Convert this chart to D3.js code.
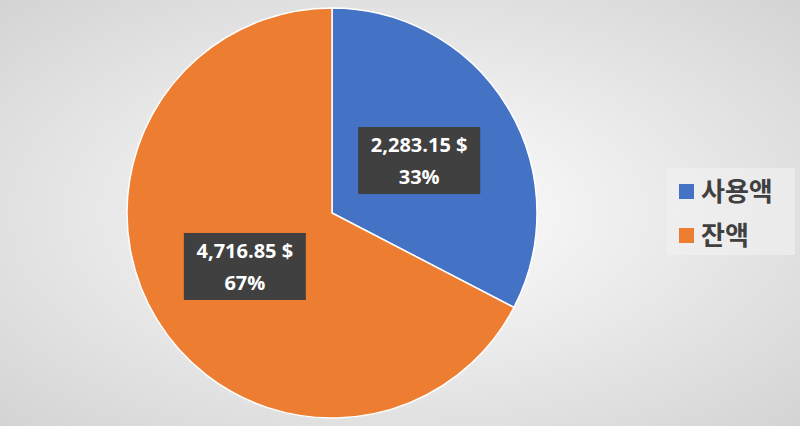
<!DOCTYPE html>
<html>
<head>
<meta charset="utf-8">
<script src="https://cdn.jsdelivr.net/npm/d3@7"></script>
<style>
  body { margin: 0; }
  svg { display: block; font-family: "Noto Sans CJK KR", "Noto Sans", sans-serif; }
</style>
</head>
<body>
<div id="chart"></div>
<script>
// Data
const categories = ["사용액", "잔액"];
const values = [2283.15, 4716.85];
const colors = ["#4472C4", "#ED7D31"];

const width = 800, height = 426;
const cx = 332, cy = 213, radius = 205;

const svg = d3.select("#chart").append("svg")
    .attr("width", width)
    .attr("height", height);

// Background radial gradient
const grad = svg.append("defs").append("radialGradient")
    .attr("id", "bg").attr("cx", "50%").attr("cy", "50%").attr("r", "70%");
grad.append("stop").attr("offset", "0%").attr("stop-color", "#ffffff");
grad.append("stop").attr("offset", "100%").attr("stop-color", "#d4d4d4");
svg.append("rect").attr("width", width).attr("height", height).attr("fill", "url(#bg)");

const total = d3.sum(values);
const pie = d3.pie().sort(null)(values);
const arc = d3.arc().innerRadius(0).outerRadius(radius);
const labelArc = d3.arc().innerRadius(102).outerRadius(102);

const g = svg.append("g").attr("transform", `translate(${cx},${cy})`);

g.selectAll("path")
    .data(pie)
    .enter().append("path")
    .attr("d", arc)
    .attr("fill", (d, i) => colors[i])
    .attr("stroke", "#ffffff")
    .attr("stroke-width", 1.5);

// Data labels
const fmt = d3.format(",.2f");
const labels = g.selectAll(".label")
    .data(pie)
    .enter().append("g")
    .attr("class", "label")
    .attr("transform", d => `translate(${labelArc.centroid(d)})`);

labels.append("rect")
    .attr("x", -61).attr("y", -33)
    .attr("width", 122).attr("height", 67)
    .attr("fill", "#404040");

labels.append("text")
    .attr("text-anchor", "middle")
    .attr("y", -8)
    .attr("fill", "#ffffff")
    .style("font-size", "20px")
    .style("font-weight", "bold")
    .style("font-family", "'Open Sans', sans-serif")
    .text(d => fmt(d.data) + " $");

labels.append("text")
    .attr("text-anchor", "middle")
    .attr("y", 24)
    .attr("fill", "#ffffff")
    .style("font-size", "20px")
    .style("font-weight", "bold")
    .style("font-family", "'Open Sans', sans-serif")
    .text(d => Math.round(d.data / total * 100) + "%");

// Legend
const legend = svg.append("g").attr("transform", "translate(667,168)");
legend.append("rect")
    .attr("width", 128).attr("height", 87)
    .attr("fill", "#f2f2f2").attr("opacity", 0.6);

const items = legend.selectAll(".item")
    .data(categories)
    .enter().append("g")
    .attr("transform", (d, i) => `translate(12,${24 + i * 44})`);

items.append("rect")
    .attr("x", 0).attr("y", -8)
    .attr("width", 15).attr("height", 15)
    .attr("fill", (d, i) => colors[i]);

items.append("text")
    .attr("x", 22).attr("y", 9)
    .attr("fill", "#404040")
    .style("font-size", "26px")
    .style("font-weight", "bold")
    .text(d => d);
</script>
</body>
</html>
